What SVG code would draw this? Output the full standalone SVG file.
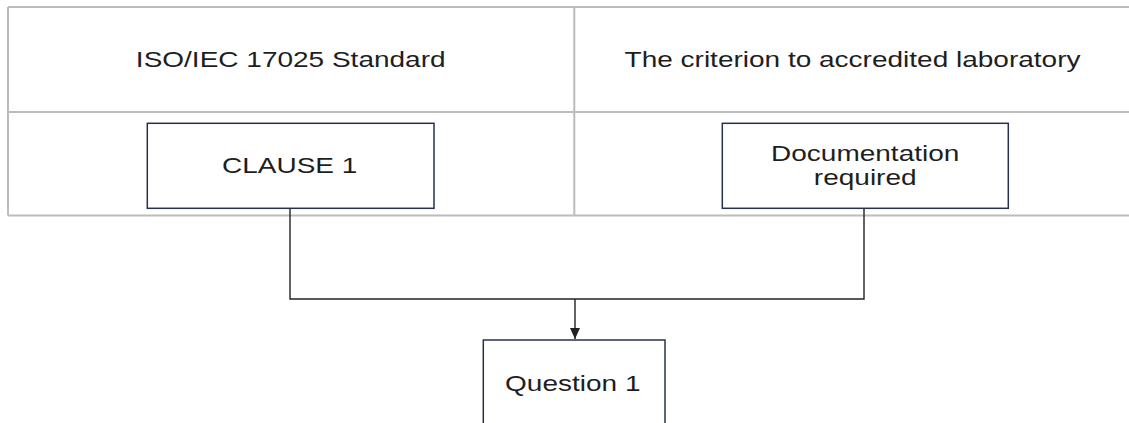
<svg xmlns="http://www.w3.org/2000/svg" width="1129" height="423" viewBox="0 0 1129 423">
<style>
.grid{stroke:#bcbcbc;stroke-width:2;fill:none}
.box{fill:#ffffff;stroke:#283050;stroke-width:1.5}
.conn{stroke:#222222;stroke-width:1.4;fill:none}
.t{font-family:"Liberation Sans",Arial,sans-serif;font-size:22.5px;fill:#1e1e1e;text-anchor:middle}
</style>
<defs>
<marker id="arr" markerUnits="userSpaceOnUse" markerWidth="12" markerHeight="10" refX="11" refY="5" orient="auto">
<path d="M0,0 L11,5 L0,10 Z" fill="#222222"/>
</marker>
</defs>
<rect width="1129" height="423" fill="#ffffff"/>
<g id="table">
<path class="grid" d="M8,7 H1129 M8,112 H1129 M8,215.5 H1129 M8,7 V215.5 M574.3,7 V215.5"/>
<text class="t" transform="translate(290.7,66.5) scale(1.245,1)">ISO/IEC 17025 Standard</text>
<text class="t" transform="translate(852.5,66.5) scale(1.245,1)">The criterion to accredited laboratory</text>
</g>
<g id="connectors">
<path class="conn" d="M290,208.3 V299 H864 V208.3"/>
<path class="conn" d="M575,299 V339" marker-end="url(#arr)"/>
</g>
<g id="clause1">
<rect class="box" x="147.3" y="123.3" width="286.7" height="85"/>
<text class="t" transform="translate(289.7,173.3) scale(1.245,1)">CLAUSE 1</text>
</g>
<g id="documentation">
<rect class="box" x="722.3" y="123.3" width="286" height="85"/>
<text class="t" transform="translate(865.2,160.7) scale(1.245,1)">Documentation</text>
<text class="t" transform="translate(865.2,185.2) scale(1.245,1)">required</text>
</g>
<g id="question1">
<rect class="box" x="483.3" y="340" width="181.7" height="100"/>
<text class="t" transform="translate(572.8,390.7) scale(1.245,1)">Question 1</text>
</g>
</svg>
